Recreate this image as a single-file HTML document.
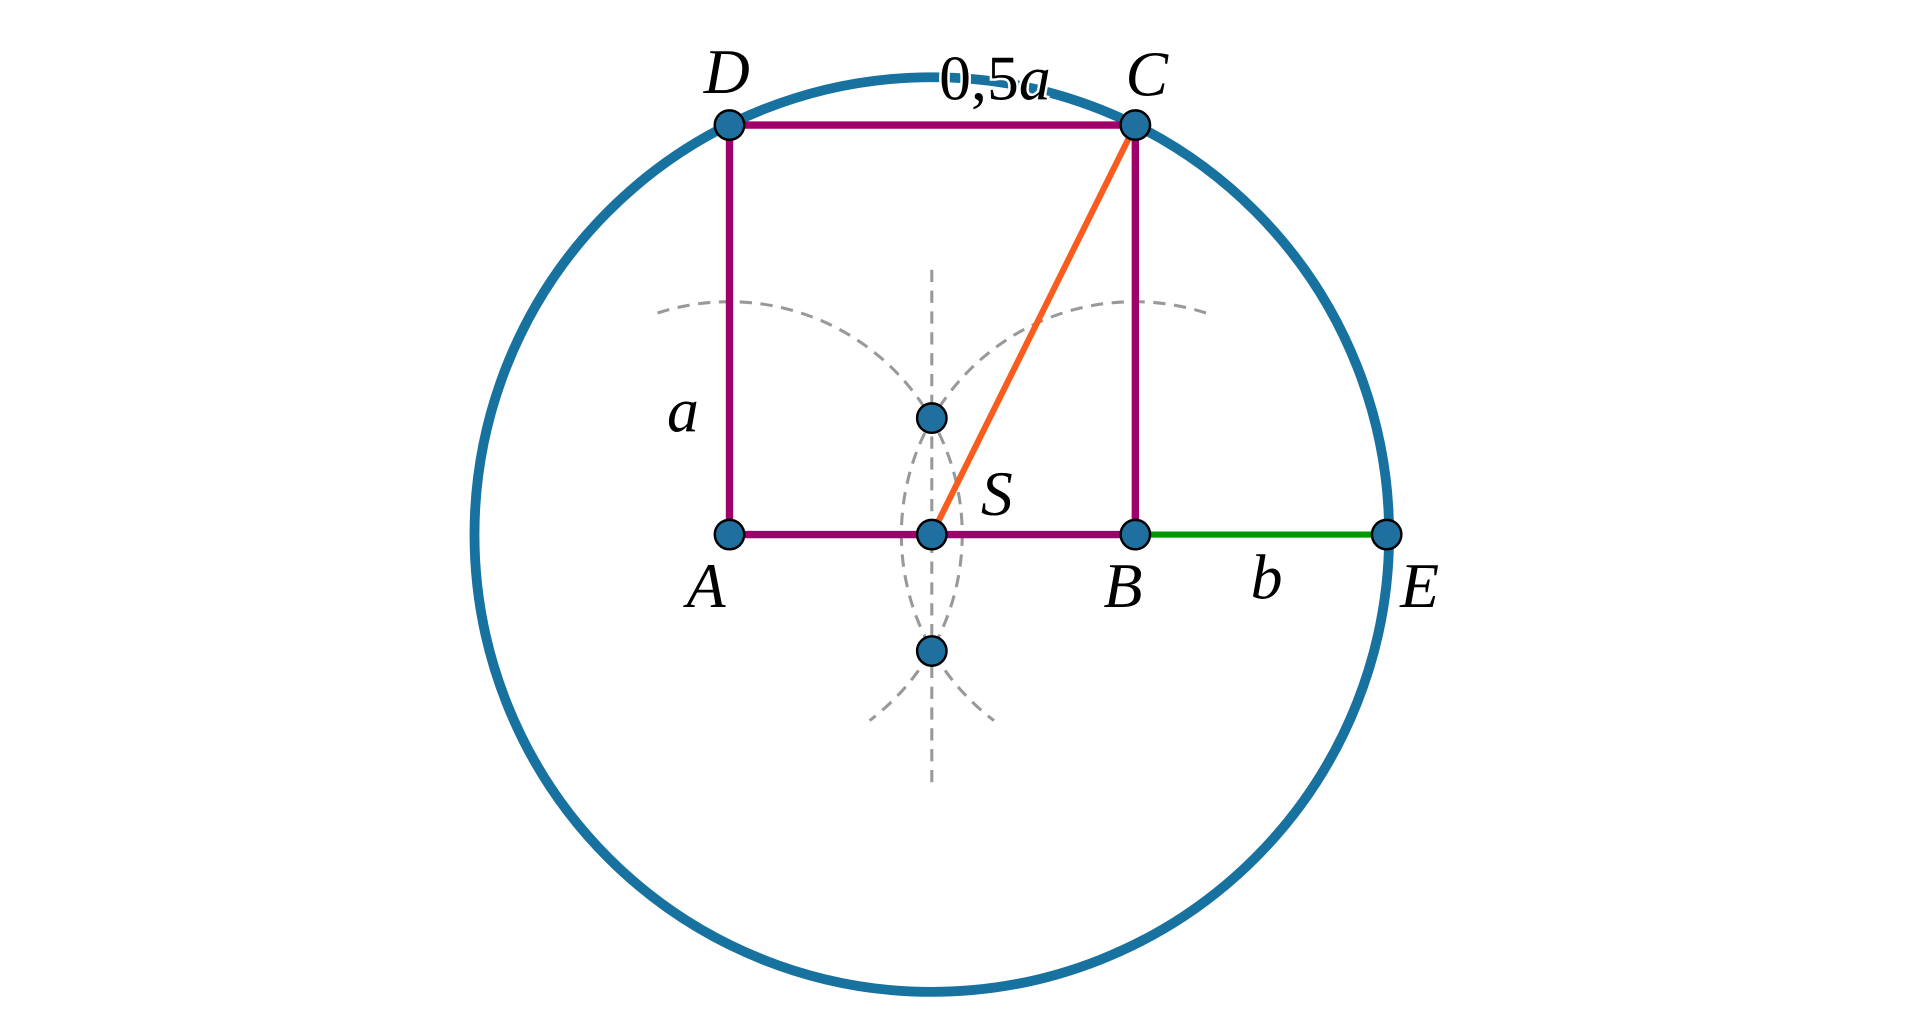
<!DOCTYPE html>
<html><head><meta charset="utf-8"><style>
html,body{margin:0;padding:0;background:#fff;}
svg{display:block;}
text{font-family:"Liberation Serif",serif;font-style:italic;font-size:52px;fill:#000;}
</style></head><body>
<svg width="1920" height="1036" viewBox="0 0 1566 845" preserveAspectRatio="none" xmlns="http://www.w3.org/2000/svg">
<g fill="none" stroke="#999" stroke-width="2.5" stroke-dasharray="10 7">
<line x1="760" y1="220" x2="760" y2="640"/>
<path d="M536.3,255.3 A190,190 0 0 1 709.3,587.7"/>
<path d="M983.7,255.3 A190,190 0 0 0 810.7,587.7"/>
</g>
<circle cx="760" cy="436" r="373" fill="none" stroke="#1872a0" stroke-width="8"/>
<g stroke="#a0006a" stroke-width="6" fill="none">
<line x1="595" y1="102" x2="926" y2="102"/>
<line x1="595" y1="102" x2="595" y2="436"/>
<line x1="926" y1="102" x2="926" y2="436"/>
<line x1="595" y1="436" x2="926" y2="436"/>
</g>
<line x1="926" y1="436" x2="1131" y2="436" stroke="#009a00" stroke-width="5"/>
<line x1="760" y1="436" x2="926" y2="102" stroke="#f95c1e" stroke-width="5"/>
<g fill="#1f6f9f" stroke="#000" stroke-width="2">
<circle cx="595" cy="102" r="12"/><circle cx="926" cy="102" r="12"/>
<circle cx="595" cy="436" r="12"/><circle cx="760" cy="436" r="12"/>
<circle cx="926" cy="436" r="12"/><circle cx="1131" cy="436" r="12"/>
<circle cx="760" cy="341" r="12"/><circle cx="760" cy="531" r="12"/>
</g>
<text x="574" y="76">D</text>
<text x="918" y="78">C</text>
<text x="766" y="81" style="font-style:normal;paint-order:stroke;stroke:#fff;stroke-width:4">0,5<tspan style="font-style:italic">a</tspan></text>
<text x="544" y="352">a</text>
<text x="800" y="420">S</text>
<text x="560" y="495">A</text>
<text x="900" y="495">B</text>
<text x="1020" y="488">b</text>
<text x="1142" y="495">E</text>
</svg>
</body></html>
